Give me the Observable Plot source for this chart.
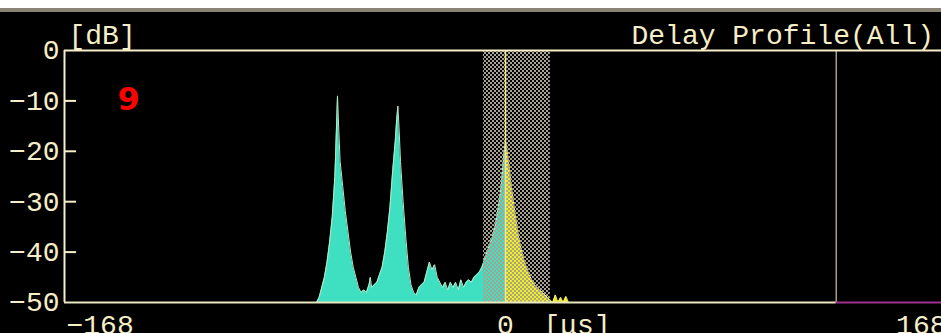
<!DOCTYPE html>
<html>
<head>
<meta charset="utf-8">
<script src="https://cdn.jsdelivr.net/npm/d3@7"></script>
<script src="https://cdn.jsdelivr.net/npm/@observablehq/plot@0.6"></script>
<style>
  html, body { margin: 0; padding: 0; background: #000; overflow: hidden; width: 941px; height: 333px; }
  #top-white { height: 8px; background: #ffffff; }
  #top-gray { height: 4px; background: #8a8272; }
  #chart svg { display: block; }
</style>
</head>
<body>
<div id="top-white"></div>
<div id="top-gray"></div>
<div id="chart"></div>
<script>
// ---- data (delay in μs, level in dB) ----
const tealDelay = [-72,-71,-70,-69,-68,-67,-66,-65,-64.5,-64,-63.5,-63,-62,-61,-60,-59,-58,-57,-56,-55,-54,-53,-52,-51.5,-51,-50,-49,-48,-47,-46,-45,-44,-43,-42,-41.5,-41,-40.5,-40,-39,-38,-37,-36,-35,-34,-33,-32,-31,-30,-29,-28,-27,-26,-25,-24,-23,-22,-21,-20,-19,-18,-17,-16,-15,-14,-13,-12,-11,-10,-9,-8,-7,-6,-5,-4,-3,-2,-1.5,-1,-0.5,0];
const tealLevel = [-50,-49,-47,-45,-42,-38,-33,-25,-17,-9,-16,-22,-27,-32,-36,-40,-43,-45,-47,-48,-47.5,-48,-46.5,-45,-47,-46.5,-46,-44.5,-43,-40,-36,-31,-24,-18,-14,-11,-16,-22,-30,-37,-43,-46.5,-48,-48.5,-47,-46.5,-46,-44,-42,-43.5,-42.5,-45,-46,-47,-46,-47.5,-46,-47,-46,-47.5,-45.5,-47,-46,-45.5,-46,-45,-44.5,-44,-43,-41.5,-40,-38.5,-37,-35,-32,-28.5,-26,-23,-20,-18];
const yellowDelay = [0,0.5,1,1.5,2,3,4,5,6,7,8,9,10,11,12,13,14,15,16,17,18,19,20,21,22,23,24];
const yellowLevel = [-18,-19.5,-21.5,-23.5,-26,-30,-33.5,-37,-39.5,-41.5,-43,-44.5,-45.5,-46.5,-47,-47.5,-48,-48.5,-49,-49.5,-50,-48.5,-50,-49,-50,-48.8,-50];
const yTicks = [0,-10,-20,-30,-40,-50];
const innerTicks = [-10,-20,-30,-40];
const xTickLabels = [-168, 0, 168];
const windowStart = -8.4, windowEnd = 17.1;   // gated window
const markerDelay = 0;                       // marker at 0 μs
const rangeEnd = 126;                        // right boundary line
const xDomain = [-168, 168];
const yDomain = [-50, 0];

const teal = tealDelay.map((t, i) => ({t, db: tealLevel[i]}));
const yellow = yellowDelay.map((t, i) => ({t, db: yellowLevel[i]}));

const FONT = "'Liberation Mono', 'DejaVu Sans Mono', monospace";
const CREAM = "#f6eec8";

const chart = Plot.plot({
  width: 941,
  height: 321,
  marginLeft: 64,
  marginRight: -5,
  marginTop: 38,
  marginBottom: 31,
  style: {background: "#000", color: CREAM, fontFamily: FONT, fontSize: "28px", overflow: "hidden"},
  x: {domain: xDomain, axis: null},
  y: {domain: yDomain, axis: null},
  marks: [
    Plot.areaY(teal, {x: "t", y1: -50, y2: "db", fill: "#3fe0c2"}),
    Plot.line(teal, {x: "t", y: "db", stroke: "#b8e8c8", strokeWidth: 1}),
    Plot.areaY(yellow, {x: "t", y1: -50, y2: "db", fill: "#f0f018"}),
    Plot.line(yellow, {x: "t", y: "db", stroke: "#f8f070", strokeWidth: 1}),
    Plot.rect([{a: windowStart, b: windowEnd}], {x1: "a", x2: "b", y1: -50, y2: 0, fill: "url(#checker)"}),
    Plot.ruleX([markerDelay], {y1: -50, y2: 0, stroke: "#f2e880", strokeWidth: 1.5}),
    Plot.ruleX([rangeEnd], {y1: -50, y2: 0, stroke: "#a89e86", strokeWidth: 1.5}),
    // frame
    Plot.ruleY([0], {x1: xDomain[0], x2: xDomain[1], stroke: CREAM, strokeWidth: 2}),
    Plot.ruleX([xDomain[0]], {y1: -50, y2: 0, stroke: CREAM, strokeWidth: 2}),
    Plot.ruleY([-50], {x1: xDomain[0], x2: rangeEnd, stroke: "#e8e6c0", strokeWidth: 2}),
    Plot.ruleY([-50], {x1: rangeEnd, x2: xDomain[1], stroke: "#a0308e", strokeWidth: 2}),
    // inward ticks
    Plot.ruleY(innerTicks, {x1: xDomain[0], x2: xDomain[0] + 4.6, stroke: CREAM, strokeWidth: 2}),
    // y labels
    Plot.text(yTicks, {x: xDomain[0], y: d => d, text: d => d === 0 ? "0" : "\u2212" + Math.abs(d),
      textAnchor: "end", dx: -5, fill: CREAM, fontSize: 28, fontFamily: FONT}),
    Plot.text(["[dB]"], {frameAnchor: "top-left", textAnchor: "start", lineAnchor: "bottom", dx: 4, dy: -7,
      fill: CREAM, fontSize: 28, fontFamily: FONT}),
    Plot.text(["Delay Profile(All)"], {frameAnchor: "top-left", textAnchor: "start", lineAnchor: "bottom", dx: 567, dy: -7,
      fill: CREAM, fontSize: 28, fontFamily: FONT}),
    // x labels
    Plot.text([xTickLabels[0]], {x: d => d, y: -50, text: d => "\u2212" + Math.abs(d), textAnchor: "start", lineAnchor: "bottom",
      dx: 2, dy: 31, fill: CREAM, fontSize: 28, fontFamily: FONT}),
    Plot.text([xTickLabels[1]], {x: d => d, y: -50, text: d => String(d), textAnchor: "middle", lineAnchor: "bottom",
      dy: 31, fill: CREAM, fontSize: 28, fontFamily: FONT}),
    Plot.text(["[μs]"], {x: xTickLabels[1], y: -50, textAnchor: "start", lineAnchor: "bottom",
      dx: 38, dy: 31, fill: CREAM, fontSize: 28, fontFamily: FONT}),
    Plot.text([xTickLabels[2]], {x: d => d, y: -50, text: d => String(d), textAnchor: "end", lineAnchor: "bottom",
      dx: 0, dy: 31, fill: CREAM, fontSize: 28, fontFamily: FONT}),
    // figure number
    Plot.text(["9"], {x: -143.6, y: -9.8, fill: "#ff0000", fontSize: 32, fontWeight: "bold",
      fontFamily: "'DejaVu Sans', Verdana, sans-serif", textAnchor: "middle", lineAnchor: "middle"})
  ]
});

// checker pattern for the gated window
const ns = "http://www.w3.org/2000/svg";
const defs = document.createElementNS(ns, "defs");
const pat = document.createElementNS(ns, "pattern");
pat.setAttribute("id", "checker");
pat.setAttribute("patternUnits", "userSpaceOnUse");
pat.setAttribute("width", "4");
pat.setAttribute("height", "4");
[[0,0],[2,2]].forEach(([x,y]) => {
  const r = document.createElementNS(ns, "rect");
  r.setAttribute("x", x); r.setAttribute("y", y);
  r.setAttribute("width", 2); r.setAttribute("height", 2);
  r.setAttribute("fill", "#aaa290");
  pat.appendChild(r);
});
defs.appendChild(pat);
chart.insertBefore(defs, chart.firstChild);

document.getElementById("chart").appendChild(chart);
</script>
</body>
</html>
